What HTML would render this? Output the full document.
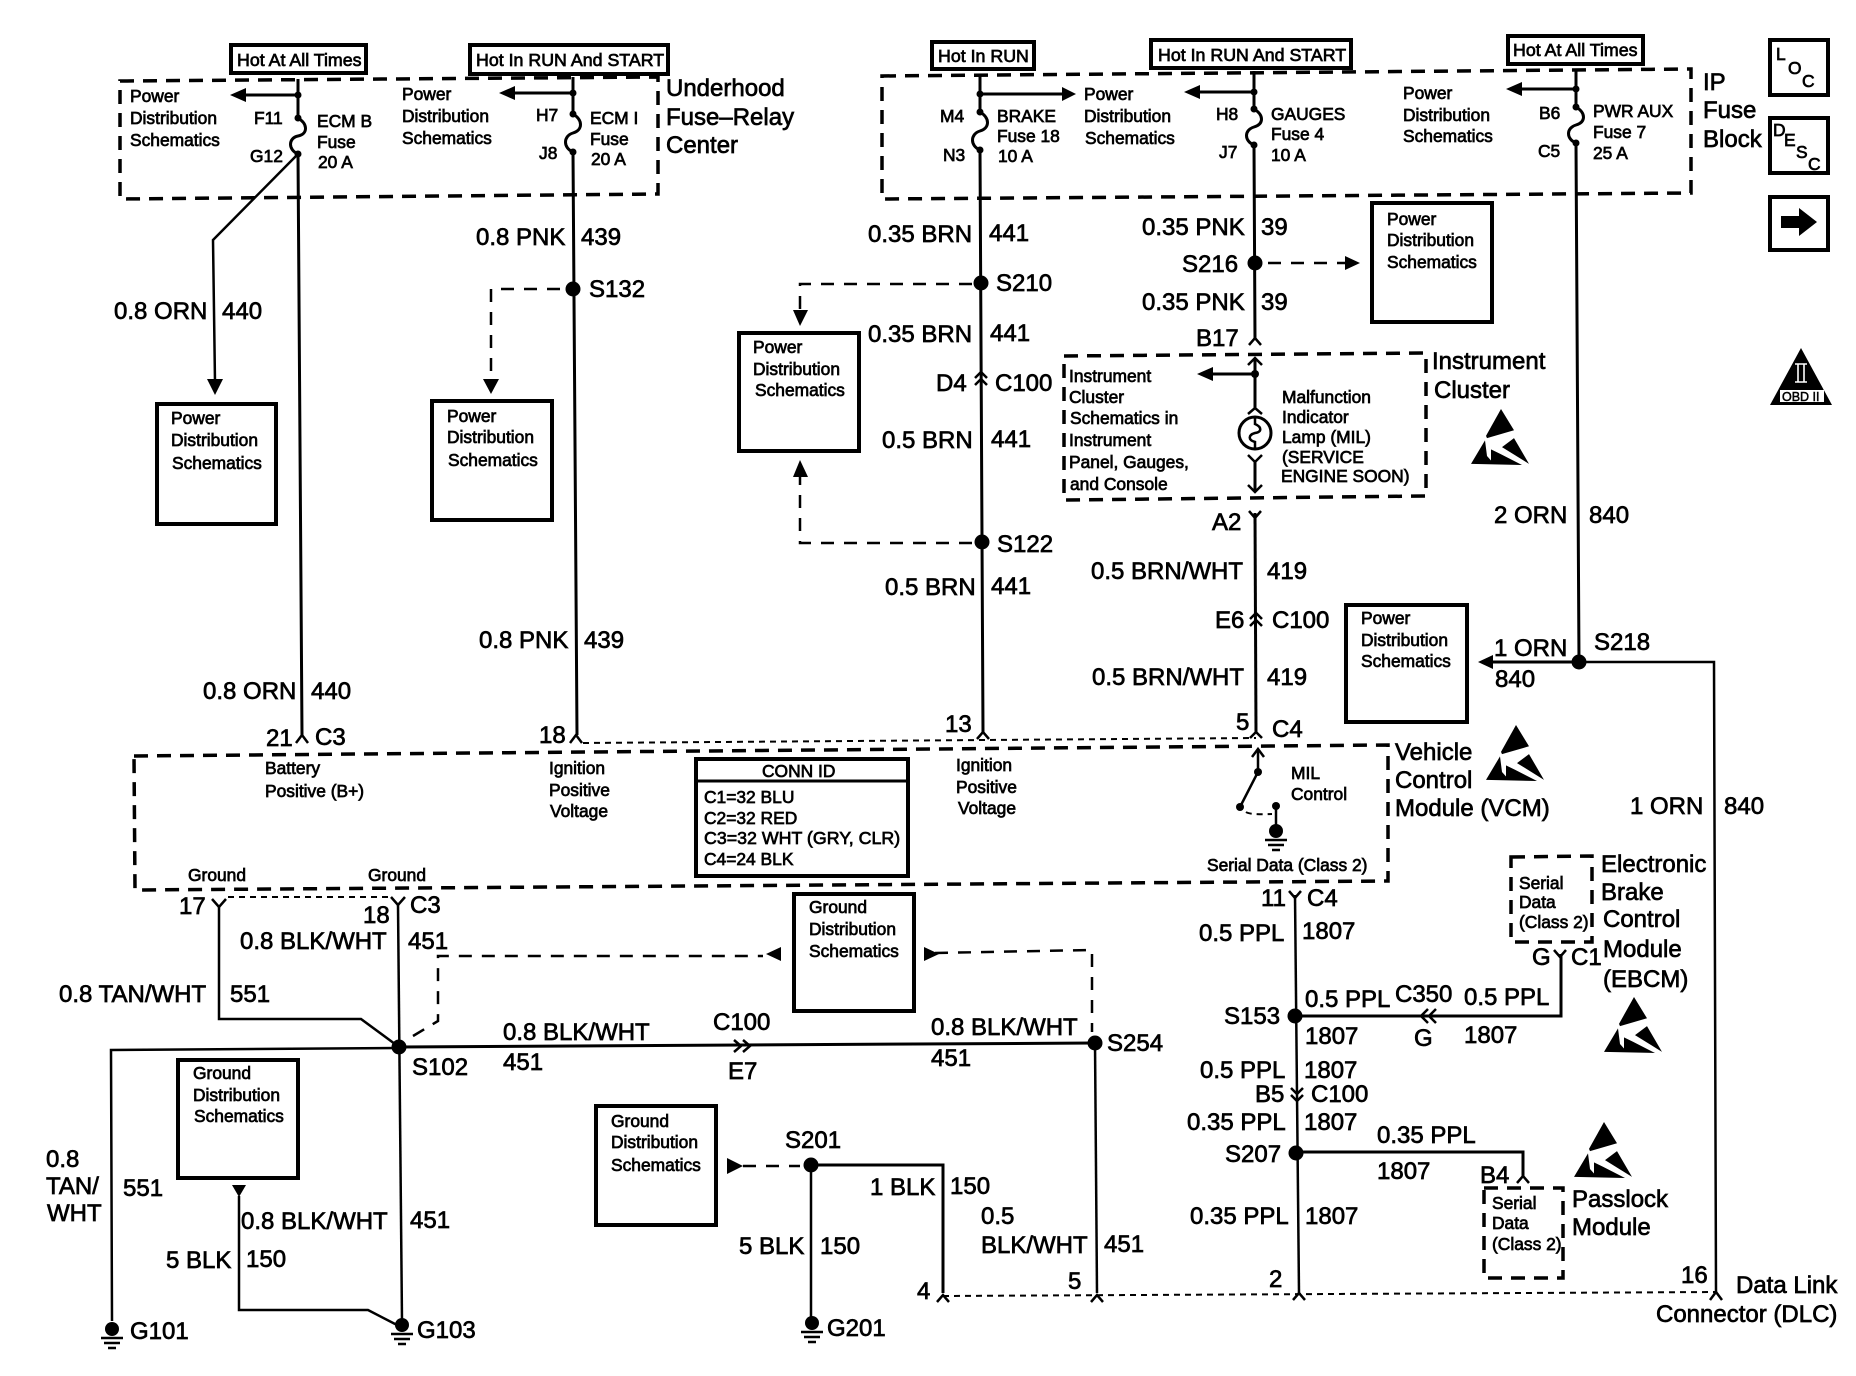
<!DOCTYPE html>
<html>
<head>
<meta charset="utf-8">
<style>
html,body{margin:0;padding:0;background:#fff}
svg{display:block}
text{font-family:"Liberation Sans",sans-serif;fill:#000;stroke:#000}
.l text{font-size:24px;stroke-width:.7px}
.s text{font-size:17.4px;stroke-width:.7px}
.s text.m{font-size:17.8px}
.w{fill:none;stroke:#000;stroke-width:3;stroke-linejoin:miter}
.d{fill:none;stroke:#000;stroke-width:3.5;stroke-dasharray:14 9}
.h{fill:none;stroke:#000;stroke-width:2.5;stroke-dasharray:13 10}
.t{fill:none;stroke:#000;stroke-width:2;stroke-dasharray:6 5}
.b{fill:#fff;stroke:#000;stroke-width:4}
.c{fill:none;stroke:#000;stroke-width:2.5}
</style>
</head>
<body>
<svg xmlns="http://www.w3.org/2000/svg" width="1856" height="1376" viewBox="0 0 1856 1376">
<defs>
<g id="esd" transform="scale(1,1.12)">
<polygon points="31,0 44,19 17,26 16,24" fill="#000"/>
<polygon points="44,26 59,49 32,34" fill="#000"/>
<polygon points="1,49 15,28 17,42 21,46 21,36 30,40 52,50" fill="#000"/>
</g>
<g id="gnd">
<circle cx="0" cy="0" r="7" fill="#000"/>
<path d="M-11,9 H11 M-8,14 H8 M-4,19 H4" stroke="#000" stroke-width="2.5"/>
</g>
</defs>

<!-- dashed module outlines -->
<g fill="none">
<path class="d" d="M120,81 L658,77 L658,194 L120,199 Z"/>
<path class="d" d="M882,76 L1691,69 L1691,193 L882,199 Z"/>
<path class="d" d="M1064,356 L1426,353 L1426,496 L1064,500 Z"/>
<path class="d" d="M134,756 L1388,745 L1388,881 L135,890 Z"/>
<path class="d" d="M1511,857 L1592,856 L1592,942 L1511,942 Z"/>
<path class="d" d="M1484,1188 L1563,1188 L1563,1278 L1484,1278 Z"/>
</g>

<!-- labelled boxes -->
<g>
<rect class="b" x="231" y="45" width="135" height="28"/>
<rect class="b" x="470" y="45" width="198" height="29"/>
<rect class="b" x="932" y="42" width="102" height="27"/>
<rect class="b" x="1151" y="40" width="200" height="28"/>
<rect class="b" x="1508" y="36" width="135" height="28"/>
<rect class="b" x="157" y="404" width="119" height="120"/>
<rect class="b" x="432" y="401" width="120" height="119"/>
<rect class="b" x="739" y="333" width="120" height="118"/>
<rect class="b" x="1372" y="203" width="120" height="119"/>
<rect class="b" x="1346" y="605" width="121" height="117"/>
<rect class="b" x="794" y="894" width="120" height="117"/>
<rect class="b" x="178" y="1060" width="120" height="118"/>
<rect class="b" x="596" y="1106" width="120" height="119"/>
<rect class="b" x="696" y="759" width="212" height="117"/>
<path d="M696,781 H908" stroke="#000" stroke-width="3"/>
<rect class="b" x="1770" y="40" width="58" height="55"/>
<rect class="b" x="1770" y="118" width="58" height="55"/>
<rect class="b" x="1770" y="197" width="58" height="53"/>
</g>

<!-- wires -->
<g class="w">
<path d="M298,79 V118 C308,124 308,134 298,136 C288,138 288,150 298,154 L302,735"/>
<path d="M298,154 L213,240 L215,382" stroke-width="2.5"/>
<path d="M298,95 H245"/>
<path d="M573,77 V114 C583,120 583,130 573,133 C563,136 563,148 573,152 L577,735"/>
<path d="M573,93 H514"/>
<path d="M980,75 V112 C990,118 990,128 980,131 C970,134 970,146 980,150 L983,732"/>
<path d="M980,94 H1063"/>
<path d="M1254,71 V109 C1264,115 1264,124 1254,127 C1244,130 1244,141 1254,145 L1255,340"/>
<path d="M1254,92 H1199"/>
<path d="M1576,70 V107 C1586,113 1586,122 1576,125 C1566,128 1566,139 1576,143 L1579,662"/>
<path d="M1576,89 H1521"/>
<path d="M1255,358 V408 M1255,460 V492" stroke-width="3"/>
<path d="M1255,374 H1212" stroke-width="3"/>
<path d="M1255,513 L1256,732"/>
<path d="M1579,662 H1492"/>
<path d="M1579,662 H1714 L1716,1292" stroke-width="2.5"/>
<path d="M219,905 V1019 H361 L399,1047" stroke-width="2.5"/>
<path d="M398,905 L402,1321" stroke-width="2.5"/>
<path d="M399,1048 L111,1050 L112,1321" stroke-width="2.5"/>
<path d="M399,1047 L1095,1043"/>
<path d="M1095,1043 L1097,1293" stroke-width="2.5"/>
<path d="M239,1196 V1310 H368 L397,1325" stroke-width="2.5"/>
<path d="M811,1165 H943 V1293"/>
<path d="M811,1165 V1321" stroke-width="2.5"/>
<path d="M1295,895 L1299,1293" stroke-width="2.5"/>
<path d="M1295,1016 H1561 V954"/>
<path d="M1296,1152 H1523 V1176"/>
<path d="M1258,750 V772 L1240,807" stroke-width="2.5"/>
<path d="M1276,806 V827" stroke-width="2.5"/>
</g>

<!-- dashed wires -->
<g>
<path class="h" d="M560,289 H491 V380"/>
<path class="h" d="M972,284 H800 V314"/>
<path class="h" d="M972,543 H800 V475"/>
<path class="h" d="M1268,263 H1345"/>
<path class="h" d="M413,1036 L438,1021 V956 H763"/>
<path class="h" d="M935,953 L1092,950 V1032"/>
<path class="h" d="M743,1166 H800"/>
<path class="t" d="M583,743 L1256,738"/>
<path class="t" d="M228,897 H391"/>
<path class="t" d="M943,1296 L1716,1292"/>
<path class="t" d="M1246,812 Q1250,815 1272,814"/>
</g>

<!-- arrowheads -->
<g fill="#000">
<polygon points="230,95 246,88 246,102"/>
<polygon points="499,93 515,86 515,100"/>
<polygon points="1076,94 1062,87 1062,101"/>
<polygon points="1184,92 1200,85 1200,99"/>
<polygon points="1506,89 1522,82 1522,96"/>
<polygon points="215,395 207,379 223,379"/>
<polygon points="491,394 483,379 499,379"/>
<polygon points="800,326 793,310 808,310"/>
<polygon points="800,460 793,477 808,477"/>
<polygon points="1360,263 1345,256 1345,270"/>
<polygon points="1197,374 1213,367 1213,381"/>
<polygon points="1478,662 1493,655 1493,669"/>
<polygon points="766,954 781,947 781,961"/>
<polygon points="939,954 924,947 924,961"/>
<polygon points="743,1166 727,1158 727,1174"/>
<polygon points="239,1197 232,1185 246,1185"/>
<polygon points="1781,216 1799,216 1799,208 1817,222 1799,236 1799,228 1781,228"/>
</g>

<!-- splices and small dots -->
<g fill="#000">
<circle cx="573" cy="289" r="7.5"/><circle cx="981" cy="283" r="7.5"/><circle cx="982" cy="542" r="7.5"/>
<circle cx="1255" cy="263" r="7.5"/><circle cx="1579" cy="662" r="7.5"/><circle cx="399" cy="1047" r="7.5"/>
<circle cx="1095" cy="1043" r="7.5"/><circle cx="811" cy="1165" r="7.5"/><circle cx="1295" cy="1016" r="7.5"/>
<circle cx="1296" cy="1153" r="7.5"/>
<circle cx="298" cy="95" r="3.5"/><circle cx="298" cy="118" r="3.5"/><circle cx="298" cy="154" r="3.5"/>
<circle cx="573" cy="93" r="3.5"/><circle cx="573" cy="114" r="3.5"/><circle cx="573" cy="152" r="3.5"/>
<circle cx="980" cy="94" r="3.5"/><circle cx="980" cy="112" r="3.5"/><circle cx="980" cy="150" r="3.5"/>
<circle cx="1254" cy="92" r="3.5"/><circle cx="1254" cy="109" r="3.5"/><circle cx="1254" cy="145" r="3.5"/>
<circle cx="1576" cy="89" r="3.5"/><circle cx="1576" cy="107" r="3.5"/><circle cx="1576" cy="143" r="3.5"/>
<circle cx="1255" cy="374" r="4"/>
<circle cx="1258" cy="772" r="4"/><circle cx="1240" cy="807" r="4"/><circle cx="1276" cy="806" r="4"/>
</g>

<!-- connector chevrons -->
<g class="c">
<path d="M296,743 L302,735 L308,743"/>
<path d="M570,743 L576,735 L582,743"/>
<path d="M977,739 L983,732 L989,739"/>
<path d="M1250,738 L1256,732 L1262,738"/>
<path d="M1249,345 L1255,338 L1261,345"/>
<path d="M1249,511 L1255,518 L1261,511 M1255,518 V524"/>
<path d="M975,378 L981,372 L987,378 M975,385 L981,379 L987,385"/>
<path d="M1250,619 L1256,613 L1262,619 M1250,626 L1256,620 L1262,626"/>
<path d="M212,899 L219,907 L226,899"/>
<path d="M391,897 L398,905 L405,897"/>
<path d="M734,1040 L741,1046 L734,1052 M743,1040 L750,1046 L743,1052"/>
<path d="M1428,1009 L1421,1016 L1428,1023 M1436,1009 L1429,1016 L1436,1023"/>
<path d="M1289,891 L1295,898 L1301,891"/>
<path d="M1554,950 L1560,957 L1566,950"/>
<path d="M1291,1088 L1297,1094 L1303,1088 M1291,1095 L1297,1101 L1303,1095"/>
<path d="M1517,1183 L1523,1176 L1529,1183"/>
<path d="M937,1302 L943,1295 L949,1302"/>
<path d="M1091,1302 L1097,1295 L1103,1302"/>
<path d="M1293,1300 L1299,1293 L1305,1300"/>
<path d="M1710,1300 L1716,1292 L1722,1300"/>
<path d="M1252,757 L1258,749 L1264,757"/>
<path d="M1248,365 L1255,358 L1262,365"/>
<path d="M1248,414 L1255,408 L1262,414"/>
<path d="M1248,455 L1255,462 L1262,455"/>
<path d="M1248,485 L1255,492 L1262,485"/>
</g>

<!-- MIL bulb -->
<circle cx="1255" cy="433" r="16" fill="none" stroke="#000" stroke-width="3"/>
<path d="M1255,418 V424 C1262,427 1262,432 1255,433 C1248,435 1248,440 1255,442 V449" fill="none" stroke="#000" stroke-width="2.5"/>

<!-- grounds -->
<use href="#gnd" x="112" y="1329"/>
<use href="#gnd" x="402" y="1325"/>
<use href="#gnd" x="812" y="1323"/>
<use href="#gnd" x="1276" y="831"/>

<!-- ESD symbols -->
<use href="#esd" x="1470" y="409"/>
<use href="#esd" x="1485" y="725"/>
<use href="#esd" x="1603" y="997"/>
<use href="#esd" x="1573" y="1122"/>

<!-- OBD II -->
<polygon points="1801,348 1832,405 1770,405" fill="#000"/>
<rect x="1780" y="390" width="44" height="12" fill="#fff"/>
<path d="M1795,364 H1807 M1795,382 H1807 M1798,364 V382 M1804,364 V382" stroke="#fff" stroke-width="1.6" fill="none"/>
<text x="1782" y="401" font-size="12.5" stroke-width=".5">OBD II</text>

<!-- small text -->
<g class="s">
<text class="m" x="237" y="66">Hot At All Times</text>
<text class="m" x="476" y="66">Hot In RUN And START</text>
<text class="m" x="938" y="62">Hot In RUN</text>
<text class="m" x="1158" y="61">Hot In RUN And START</text>
<text class="m" x="1513" y="56">Hot At All Times</text>

<text x="130" y="102">Power</text><text x="130" y="124">Distribution</text><text x="130" y="146">Schematics</text>
<text x="254" y="124">F11</text><text x="250" y="162">G12</text>
<text x="317" y="127">ECM B</text><text x="317" y="148">Fuse</text><text x="318" y="168">20 A</text>
<text x="402" y="100">Power</text><text x="402" y="122">Distribution</text><text x="402" y="144">Schematics</text>
<text x="536" y="121">H7</text><text x="539" y="159">J8</text>
<text x="590" y="124">ECM I</text><text x="590" y="145">Fuse</text><text x="591" y="165">20 A</text>

<text x="1084" y="100">Power</text><text x="1084" y="122">Distribution</text><text x="1085" y="144">Schematics</text>
<text x="940" y="122">M4</text><text x="943" y="161">N3</text>
<text x="997" y="122">BRAKE</text><text x="997" y="142">Fuse 18</text><text x="998" y="162">10 A</text>
<text x="1216" y="120">H8</text><text x="1219" y="158">J7</text>
<text x="1271" y="120">GAUGES</text><text x="1271" y="140">Fuse 4</text><text x="1271" y="161">10 A</text>
<text x="1403" y="99">Power</text><text x="1403" y="121">Distribution</text><text x="1403" y="142">Schematics</text>
<text x="1539" y="119">B6</text><text x="1538" y="157">C5</text>
<text x="1593" y="117">PWR AUX</text><text x="1593" y="138">Fuse 7</text><text x="1593" y="159">25 A</text>

<text x="1776" y="60">L</text><text x="1788" y="74">O</text><text x="1802" y="87">C</text>
<text x="1773" y="136">D</text><text x="1784" y="146">E</text><text x="1796" y="158">S</text><text x="1808" y="170">C</text>

<text x="171" y="424">Power</text><text x="171" y="446">Distribution</text><text x="172" y="469">Schematics</text>
<text x="447" y="422">Power</text><text x="447" y="443">Distribution</text><text x="448" y="466">Schematics</text>
<text x="753" y="353">Power</text><text x="753" y="375">Distribution</text><text x="755" y="396">Schematics</text>
<text x="1387" y="225">Power</text><text x="1387" y="246">Distribution</text><text x="1387" y="268">Schematics</text>
<text x="1361" y="624">Power</text><text x="1361" y="646">Distribution</text><text x="1361" y="667">Schematics</text>

<text x="1069" y="382">Instrument</text><text x="1069" y="403">Cluster</text><text x="1070" y="424">Schematics in</text>
<text x="1069" y="446">Instrument</text><text x="1069" y="468">Panel, Gauges,</text><text x="1070" y="490">and Console</text>
<text x="1282" y="403">Malfunction</text><text x="1282" y="423">Indicator</text><text x="1282" y="443">Lamp (MIL)</text>
<text x="1282" y="463">(SERVICE</text><text x="1281" y="482">ENGINE SOON)</text>

<text x="265" y="774">Battery</text><text x="265" y="797">Positive (B+)</text>
<text x="549" y="774">Ignition</text><text x="549" y="796">Positive</text><text x="550" y="817">Voltage</text>
<text x="956" y="771">Ignition</text><text x="956" y="793">Positive</text><text x="958" y="814">Voltage</text>
<text x="762" y="777">CONN ID</text>
<text x="704" y="803">C1=32 BLU</text><text x="704" y="824">C2=32 RED</text>
<text class="m" x="704" y="844">C3=32 WHT (GRY, CLR)</text><text x="704" y="865">C4=24 BLK</text>
<text x="188" y="881">Ground</text><text x="368" y="881">Ground</text>
<text x="1291" y="779">MIL</text><text x="1291" y="800">Control</text>
<text x="1207" y="871">Serial Data (Class 2)</text>

<text x="809" y="913">Ground</text><text x="809" y="935">Distribution</text><text x="809" y="957">Schematics</text>
<text x="193" y="1079">Ground</text><text x="193" y="1101">Distribution</text><text x="194" y="1122">Schematics</text>
<text x="611" y="1127">Ground</text><text x="611" y="1148">Distribution</text><text x="611" y="1171">Schematics</text>

<text x="1519" y="889">Serial</text><text x="1519" y="908">Data</text><text x="1519" y="928">(Class 2)</text>
<text x="1492" y="1209">Serial</text><text x="1492" y="1229">Data</text><text x="1492" y="1250">(Class 2)</text>
</g>

<!-- large text -->
<g class="l">
<text x="666" y="96">Underhood</text><text x="666" y="125">Fuse–Relay</text><text x="666" y="153">Center</text>
<text x="476" y="245">0.8 PNK</text><text x="581" y="245">439</text>
<text x="589" y="297">S132</text>
<text x="114" y="319">0.8 ORN</text><text x="222" y="319">440</text>
<text x="479" y="648">0.8 PNK</text><text x="584" y="648">439</text>
<text x="203" y="699">0.8 ORN</text><text x="311" y="699">440</text>

<text x="868" y="242">0.35 BRN</text><text x="989" y="241">441</text>
<text x="868" y="342">0.35 BRN</text><text x="990" y="341">441</text>
<text x="882" y="448">0.5 BRN</text><text x="991" y="447">441</text>
<text x="885" y="595">0.5 BRN</text><text x="991" y="594">441</text>
<text x="996" y="291">S210</text><text x="997" y="552">S122</text>
<text x="936" y="391">D4</text><text x="995" y="391">C100</text>

<text x="1703" y="90">IP</text><text x="1703" y="118">Fuse</text><text x="1703" y="147">Block</text>
<text x="1142" y="235">0.35 PNK</text><text x="1261" y="235">39</text>
<text x="1182" y="272">S216</text>
<text x="1142" y="310">0.35 PNK</text><text x="1261" y="310">39</text>
<text x="1196" y="346">B17</text>
<text x="1432" y="369">Instrument</text><text x="1434" y="398">Cluster</text>
<text x="1212" y="530">A2</text>
<text x="1494" y="523">2 ORN</text><text x="1589" y="523">840</text>
<text x="1091" y="579">0.5 BRN/WHT</text><text x="1267" y="579">419</text>
<text x="1215" y="628">E6</text><text x="1272" y="628">C100</text>
<text x="1092" y="685">0.5 BRN/WHT</text><text x="1267" y="685">419</text>
<text x="1494" y="656">1 ORN</text><text x="1495" y="687">840</text><text x="1594" y="650">S218</text>

<text x="266" y="746">21</text><text x="315" y="745">C3</text>
<text x="539" y="743">18</text>
<text x="945" y="732">13</text><text x="1236" y="730">5</text><text x="1272" y="737">C4</text>
<text x="1395" y="760">Vehicle</text><text x="1395" y="788">Control</text><text x="1395" y="816">Module (VCM)</text>

<text x="179" y="914">17</text><text x="363" y="923">18</text><text x="410" y="913">C3</text>
<text x="240" y="949">0.8 BLK/WHT</text><text x="408" y="949">451</text>
<text x="59" y="1002">0.8 TAN/WHT</text><text x="230" y="1002">551</text>
<text x="412" y="1075">S102</text>
<text x="503" y="1040">0.8 BLK/WHT</text><text x="503" y="1070">451</text>
<text x="713" y="1030">C100</text><text x="728" y="1079">E7</text>
<text x="931" y="1035">0.8 BLK/WHT</text><text x="931" y="1066">451</text>
<text x="1107" y="1051">S254</text>

<text x="46" y="1167">0.8</text><text x="46" y="1194">TAN/</text><text x="47" y="1221">WHT</text>
<text x="123" y="1196">551</text>
<text x="241" y="1229">0.8 BLK/WHT</text><text x="410" y="1228">451</text>
<text x="166" y="1268">5 BLK</text><text x="246" y="1267">150</text>
<text x="130" y="1339">G101</text><text x="417" y="1338">G103</text>
<text x="785" y="1148">S201</text>
<text x="870" y="1195">1 BLK</text><text x="950" y="1194">150</text>
<text x="739" y="1254">5 BLK</text><text x="820" y="1254">150</text>
<text x="827" y="1336">G201</text>
<text x="917" y="1299">4</text>

<text x="981" y="1224">0.5</text><text x="981" y="1253">BLK/WHT</text><text x="1104" y="1252">451</text>
<text x="1068" y="1289">5</text><text x="1269" y="1287">2</text><text x="1681" y="1283">16</text>

<text x="1261" y="906">11</text><text x="1307" y="906">C4</text>
<text x="1199" y="941">0.5 PPL</text><text x="1302" y="939">1807</text>
<text x="1224" y="1024">S153</text>
<text x="1305" y="1007">0.5 PPL</text><text x="1395" y="1002">C350</text><text x="1464" y="1005">0.5 PPL</text>
<text x="1414" y="1046">G</text><text x="1464" y="1043">1807</text><text x="1305" y="1044">1807</text>
<text x="1532" y="965">G</text><text x="1571" y="965">C1</text>
<text x="1200" y="1078">0.5 PPL</text><text x="1304" y="1078">1807</text>
<text x="1255" y="1102">B5</text><text x="1311" y="1102">C100</text>
<text x="1187" y="1130">0.35 PPL</text><text x="1304" y="1130">1807</text>
<text x="1225" y="1162">S207</text>
<text x="1377" y="1143">0.35 PPL</text><text x="1377" y="1179">1807</text>
<text x="1480" y="1183">B4</text>
<text x="1190" y="1224">0.35 PPL</text><text x="1305" y="1224">1807</text>

<text x="1601" y="872">Electronic</text><text x="1601" y="900">Brake</text><text x="1603" y="927">Control</text>
<text x="1603" y="957">Module</text><text x="1603" y="987">(EBCM)</text>
<text x="1572" y="1207">Passlock</text><text x="1572" y="1235">Module</text>
<text x="1630" y="814">1 ORN</text><text x="1724" y="814">840</text>
<text x="1736" y="1293">Data Link</text><text x="1656" y="1322">Connector (DLC)</text>
</g>
</svg>
</body>
</html>
